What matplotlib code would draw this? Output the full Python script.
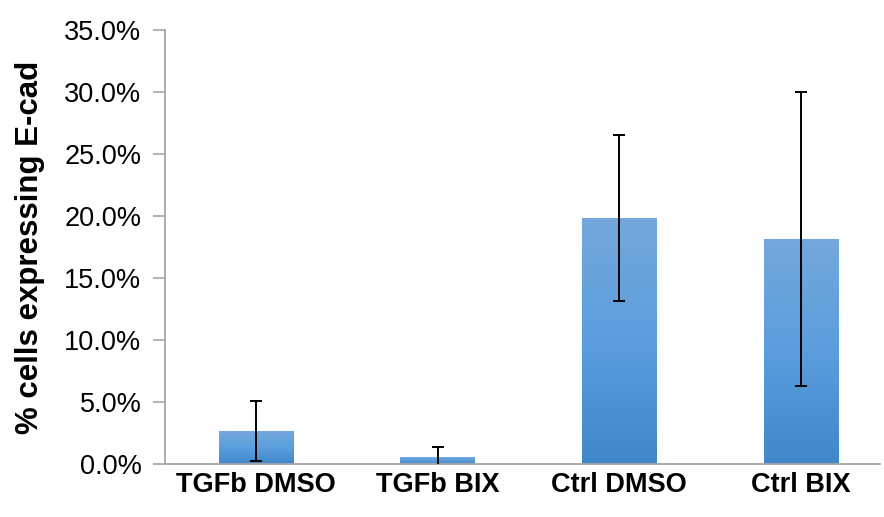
import matplotlib.pyplot as plt
import numpy as np
from matplotlib.ticker import FuncFormatter
from matplotlib.colors import LinearSegmentedColormap

# values (fractions)
groups = ["TGFb DMSO", "TGFb BIX", "Ctrl DMSO", "Ctrl BIX"]
means = [0.0266, 0.0056, 0.1984, 0.1815]
errors = [0.0242, 0.0081, 0.0672, 0.1187]

plt.rcParams['font.family'] = ['Liberation Sans', 'DejaVu Sans']

fig = plt.figure(figsize=(8.84, 5.17), dpi=100)
ax = fig.add_axes([165 / 884, 53 / 517, 715 / 884, 434 / 517])

x = np.arange(len(groups))
bars = ax.bar(x, means, width=0.41, color='none', edgecolor='none', zorder=2)

# Excel-like vertical gradient inside each bar
grad = np.linspace(0, 1, 256).reshape(-1, 1)
cmap = LinearSegmentedColormap.from_list('bar', ['#4087CA', '#5A9EDD', '#74A8DC'])
for b in bars:
    x0, y0 = b.get_x(), b.get_y()
    im = ax.imshow(grad, cmap=cmap, origin='lower', aspect='auto',
                   extent=[x0, x0 + b.get_width(), y0, y0 + b.get_height()], zorder=2)
    im.set_clip_path(b)

ax.errorbar(x, means, yerr=errors, fmt='none', ecolor='black', elinewidth=1.4,
            capsize=4.5, capthick=1.4, zorder=3)

ax.set_xlim(-0.5, 3.435)
ax.set_ylim(0, 0.35)
ax.set_yticks(np.arange(0, 0.3501, 0.05))
ax.yaxis.set_major_formatter(FuncFormatter(lambda v, p: f"{v * 100:.1f}%"))
ax.set_xticks(x)
ax.set_xticklabels(groups, fontsize=19.5, fontweight='bold')
ax.tick_params(axis='x', length=0, pad=6)
ax.tick_params(axis='y', labelsize=19.5, length=9, width=1.2, color='#A6A6A6', pad=8)

for side in ['top', 'right']:
    ax.spines[side].set_visible(False)
for side in ['left', 'bottom']:
    ax.spines[side].set_color('#A6A6A6')
    ax.spines[side].set_linewidth(1.3)

ax.set_ylabel("% cells expressing E-cad", fontsize=22.5, fontweight='bold')
ax.yaxis.set_label_coords(-0.168, 0.5)

fig.savefig("out.png", dpi=100)
